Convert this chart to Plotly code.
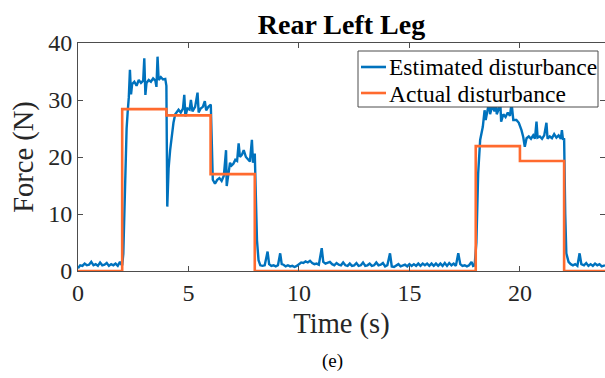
import plotly.graph_objects as go

# Actual disturbance (step profile)
act_t = [0, 2, 2, 4, 4, 6, 6, 8, 8, 18, 18, 20, 20, 22, 22, 23.85]
act_v = [0, 0, 28.4, 28.4, 27.3, 27.3, 17.0, 17.0, 0, 0, 21.9, 21.9, 19.3, 19.3, 0, 0]

# Estimated disturbance
est_t = [0, 0.1, 0.2, 0.3, 0.4, 0.5, 0.6, 0.7, 0.8, 0.9, 1.0, 1.1, 1.2, 1.3, 1.4, 1.5, 1.6, 1.7, 1.8, 1.9, 1.95,
         2.0, 2.05, 2.1, 2.15, 2.2, 2.25, 2.3, 2.35, 2.4, 2.45, 2.55, 2.65, 2.75, 2.85, 2.95, 3.0, 3.05, 3.1, 3.2,
         3.3, 3.4, 3.5, 3.55, 3.6, 3.65, 3.75, 3.85, 3.95, 4.0, 4.04, 4.1, 4.17, 4.25, 4.32, 4.4, 4.47, 4.55,
         4.65, 4.75, 4.81, 4.86, 4.95, 5.05, 5.11, 5.18, 5.3, 5.41, 5.46, 5.55, 5.65, 5.74, 5.8, 5.9, 6.01,
         6.05, 6.1, 6.2, 6.3, 6.4, 6.5, 6.6, 6.7, 6.73, 6.8, 6.88, 6.95, 7.03, 7.12, 7.2, 7.27, 7.33, 7.42,
         7.5, 7.6, 7.7, 7.78, 7.87, 7.92, 8.0, 8.05, 8.1, 8.17, 8.25, 8.35, 8.45, 8.58, 8.65, 8.75, 8.85,
         8.95, 9.05, 9.15, 9.22, 9.3, 9.4, 9.5, 9.6, 9.7, 9.8, 9.9, 10.0, 10.1, 10.2, 10.3, 10.4, 10.5, 10.6,
         10.7, 10.8, 10.9, 11.03, 11.1, 11.2, 11.3, 11.4, 11.5, 11.6, 11.7, 11.8, 11.9, 12.0, 12.1, 12.2,
         12.3, 12.4, 12.5, 12.6, 12.7, 12.8, 12.9, 13.0, 13.1, 13.2, 13.3, 13.4, 13.5, 13.6, 13.7, 13.8,
         13.9, 14.0, 14.12, 14.2, 14.3, 14.4, 14.5, 14.6, 14.7, 14.8, 14.9, 15.0, 15.1, 15.2, 15.3, 15.4,
         15.5, 15.6, 15.7, 15.8, 15.9, 16.0, 16.1, 16.2, 16.3, 16.4, 16.5, 16.6, 16.7, 16.8, 16.9, 17.0,
         17.1, 17.21, 17.3, 17.4, 17.5, 17.6, 17.7, 17.81, 17.88, 17.95, 18.03, 18.11, 18.2, 18.32, 18.4,
         18.45, 18.55, 18.6, 18.65, 18.75, 18.85, 18.9, 18.95, 19.05, 19.1, 19.15, 19.25, 19.35, 19.45,
         19.55, 19.62, 19.7, 19.84, 19.95, 20.07, 20.15, 20.22, 20.3, 20.4, 20.5, 20.6, 20.68, 20.75, 20.8,
         20.9, 21.0, 21.1, 21.2, 21.25, 21.35, 21.45, 21.55, 21.65, 21.75, 21.85, 21.9, 21.95, 22.0, 22.05,
         22.1, 22.2, 22.3, 22.4, 22.5, 22.6, 22.7, 22.78, 22.9, 23.0, 23.1, 23.2, 23.3, 23.4, 23.5, 23.6,
         23.7, 23.85]
est_v = [0.5, 1.0, 0.9, 1.3, 1.0, 1.1, 1.6, 1.0, 1.2, 0.9, 1.5, 1.0, 1.1, 1.4, 0.9, 1.2, 1.0, 1.3, 0.9, 1.6, 1.2,
         1.0, 3.0, 10.0, 19.0, 25.0, 28.0, 30.5, 35.3, 31.0, 32.8, 33.2, 32.5, 33.5, 33.0, 33.4, 37.3, 30.9, 33.0, 33.5,
         33.2, 33.8, 33.4, 32.3, 37.6, 33.5, 34.0, 33.6, 33.7, 32.5, 11.3, 18.0, 21.2, 24.5, 26.0, 27.5, 28.0, 28.3,
         27.8, 28.5, 30.9, 27.1, 28.5, 28.3, 30.0, 28.0, 28.8, 31.3, 27.8, 28.5, 28.8, 29.8, 28.2, 28.8, 29.2,
         22.0, 16.0, 15.3, 16.0, 16.3, 15.8, 16.7, 21.2, 14.9, 17.0, 19.0, 18.5, 18.8, 19.5, 19.3, 22.4, 20.0, 20.4,
         21.2, 20.0, 19.5, 19.2, 23.0, 19.0, 20.6, 12.0, 5.4, 1.9, 1.0, 0.9, 1.0, 3.4, 1.2, 0.9, 1.0,
         0.8, 1.0, 3.1, 1.2, 1.1, 0.8, 1.0, 0.8, 0.9, 0.7, 0.9, 1.2, 1.5, 1.4, 1.7, 1.5, 1.8, 1.4,
         1.2, 1.3, 1.1, 4.0, 1.6, 1.3, 1.4, 1.6, 1.2, 1.0, 1.4, 1.1, 1.0, 1.5, 1.0, 0.9,
         1.3, 0.9, 1.0, 1.4, 0.9, 1.0, 1.5, 0.9, 1.0, 1.3, 0.9, 1.0, 1.5, 1.0, 1.1, 1.4,
         0.8, 1.0, 3.1, 0.8, 0.7, 1.0, 1.2, 0.8, 1.0, 1.1, 0.8, 1.2, 0.9, 1.2, 0.9, 1.3,
         0.9, 1.3, 1.0, 1.3, 0.9, 1.3, 0.9, 1.3, 0.9, 1.3, 0.9, 1.4, 0.9, 1.4, 1.0, 1.3,
         0.9, 3.1, 1.2, 0.9, 1.0, 0.8, 1.0, 1.6, 0.9, 1.0, 5.0, 17.1, 23.0, 25.3, 28.2,
         26.5, 28.5, 30.5, 27.5, 29.0, 28.0, 31.0, 27.5, 28.5, 30.5, 26.2, 27.5, 27.0, 27.8,
         27.2, 29.5, 26.5, 26.5, 26.0, 24.7, 23.5, 21.8, 23.3, 23.6, 23.2, 23.8, 23.2, 26.2, 23.4,
         23.6, 23.2, 23.8, 26.0, 23.2, 23.6, 23.3, 24.0, 23.4, 23.8, 23.2, 24.7, 23.0, 23.3, 10.0,
         3.1, 1.6, 1.2, 1.0, 1.2, 0.9, 3.1, 1.2, 1.0, 1.4, 0.9, 1.2, 0.9, 1.3, 1.0, 1.2,
         0.8, 1.0]

x_ticks = [0, 5, 10, 15, 20]
y_ticks = [0, 10, 20, 30, 40]
series_names = ["Estimated disturbance", "Actual disturbance"]
series_colors = ["#0072BD", "#FF6A2E"]

FONT = "Liberation Serif"
AXC = "#4d4d4d"
TXT = "#262626"

# plot-area geometry in pixels (used only to place decorations)
L, R, T, B = 78, 605, 43, 271
PW, PH = R - L, B - T


def px(x):
    return (x - L) / PW


def py(y):
    return (B - y) / PH


fig = go.Figure()
fig.add_trace(go.Scatter(x=est_t, y=est_v, mode="lines", name=series_names[0],
                         line=dict(color=series_colors[0], width=2.4)))
fig.add_trace(go.Scatter(x=act_t, y=act_v, mode="lines", name=series_names[1],
                         line=dict(color=series_colors[1], width=2.6)))

fig.update_layout(
    width=605, height=378,
    margin=dict(l=L, r=605 - R, t=T, b=378 - B),
    paper_bgcolor="white", plot_bgcolor="white",
    font=dict(family=FONT, color=TXT),
    title=dict(text="<b>Rear Left Leg</b>", x=(L + R) / 2 / 605, xanchor="center",
               y=1 - 24 / 378, yanchor="middle", font=dict(size=28, color="black", family=FONT)),
    showlegend=False,
)
fig.update_xaxes(range=[0, 23.85], tickvals=x_ticks, ticks="inside", ticklen=5, tickcolor=AXC,
                 showline=True, linecolor=AXC, linewidth=1, mirror="ticks", showgrid=False, zeroline=False,
                 tickfont=dict(size=24, family=FONT, color=TXT),
                 title=dict(text="Time (s)", font=dict(size=28.5, family=FONT, color=TXT), standoff=8))
fig.update_yaxes(range=[0, 40], tickvals=y_ticks, ticks="inside", ticklen=5, tickcolor=AXC,
                 showline=True, linecolor=AXC, linewidth=1, mirror="ticks", showgrid=False, zeroline=False,
                 tickfont=dict(size=24, family=FONT, color=TXT),
                 title=dict(text="Force (N)", font=dict(size=28.5, family=FONT, color=TXT), standoff=6))

# legend box (drawn as decorations so its compact MATLAB-style layout can be matched)
fig.add_shape(type="rect", xref="paper", yref="paper", x0=px(358), x1=px(598), y0=py(107), y1=py(51),
              fillcolor="white", line=dict(color=AXC, width=1), layer="above")
for i, (name, col) in enumerate(zip(series_names, series_colors)):
    yy = 67 + 26 * i
    fig.add_shape(type="line", xref="paper", yref="paper", x0=px(361), x1=px(386), y0=py(yy), y1=py(yy),
                  line=dict(color=col, width=2.6), layer="above")
    fig.add_annotation(text=name, xref="paper", yref="paper", x=px(387), y=py(yy + 0.5),
                       xanchor="left", yanchor="middle", showarrow=False,
                       font=dict(size=23.5, family=FONT, color="black"))

fig.add_annotation(text="(e)", xref="paper", yref="paper", x=px(332), y=py(361),
                   xanchor="center", yanchor="middle", showarrow=False,
                   font=dict(size=19, family=FONT, color="black"))

fig.write_html("out.html")
